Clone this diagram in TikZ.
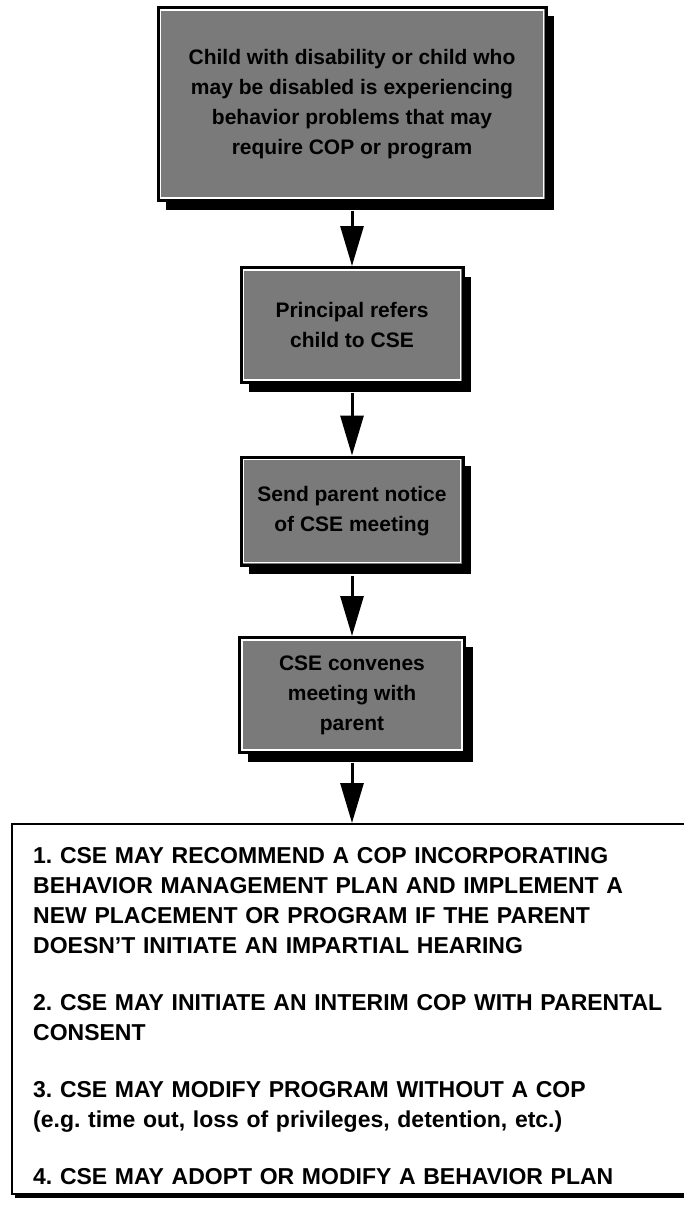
\documentclass[tikz,border=0pt]{standalone}
\usepackage{fontspec}
\setmainfont{Liberation Sans}
\usetikzlibrary{arrows.meta,shadows}
\tikzset{
  flowbox/.style={draw=black, line width=3pt, fill=black!52, align=center,
    font=\bfseries\fontsize{21}{30}\selectfont, inner sep=0pt,
    drop shadow={shadow xshift=8pt, shadow yshift=-9pt, fill=black, opacity=1}},
  inline/.style={white, line width=1.5pt},
  flowarrow/.style={line width=3pt, -{Triangle[width=23pt,length=40pt]}},
  listbox/.style={draw=black, line width=2pt, fill=white, inner sep=0pt,
    drop shadow={shadow xshift=3pt, shadow yshift=-4pt, fill=black, opacity=1}},
  listtext/.style={align=left, text width=650pt, inner sep=0pt,
    font=\bfseries\fontsize{23}{30}\selectfont}
}
\frenchspacing
\begin{document}
\begin{tikzpicture}[x=1pt,y=-1pt]
\useasboundingbox[fill=white] (0,0) rectangle (683,1212);
\node[flowbox, minimum width=388pt, minimum height=193pt] (b1) at (352,104)
  {Child with disability or child who\\may be disabled is experiencing\\behavior problems that may\\require COP or program};
\node[flowbox, minimum width=222pt, minimum height=115pt] (b2) at (352,325)
  {Principal refers\\child to CSE};
\node[flowbox, minimum width=222pt, minimum height=108pt] (b3) at (352,511)
  {Send parent notice\\of CSE meeting};
\node[flowbox, minimum width=225pt, minimum height=115pt] (b4) at (352,695)
  {CSE convenes\\meeting with\\parent};
\foreach \b in {b1,b2,b3,b4}{
  \draw[inline] ([shift={(4pt,-4pt)}]\b.north west) rectangle ([shift={(-4pt,4pt)}]\b.south east);
}
\node[listbox, minimum width=720pt, minimum height=370pt, anchor=north west] (b5) at (11,823) {};
\node[listtext, anchor=north west] (t5) at (33,847)
  {1. CSE MAY RECOMMEND A COP INCORPORATING\\BEHAVIOR MANAGEMENT PLAN AND IMPLEMENT A\\NEW PLACEMENT OR PROGRAM IF THE PARENT\\DOESN'T INITIATE AN IMPARTIAL HEARING\\[27pt]2. CSE MAY INITIATE AN INTERIM COP WITH PARENTAL\\CONSENT\\[27pt]3. CSE MAY MODIFY PROGRAM WITHOUT A COP\\(e.g. time out, loss of privileges, detention, etc.)\\[27pt]4. CSE MAY ADOPT OR MODIFY A BEHAVIOR PLAN};
\draw[flowarrow] ([yshift=-9pt]b1.south) -- (b2.north);
\draw[flowarrow] ([yshift=-9pt]b2.south) -- (b3.north);
\draw[flowarrow] ([yshift=-9pt]b3.south) -- (b4.north);
\draw[flowarrow] ([yshift=-9pt]b4.south) -- (b4.south |- b5.north);
\end{tikzpicture}
\end{document}
